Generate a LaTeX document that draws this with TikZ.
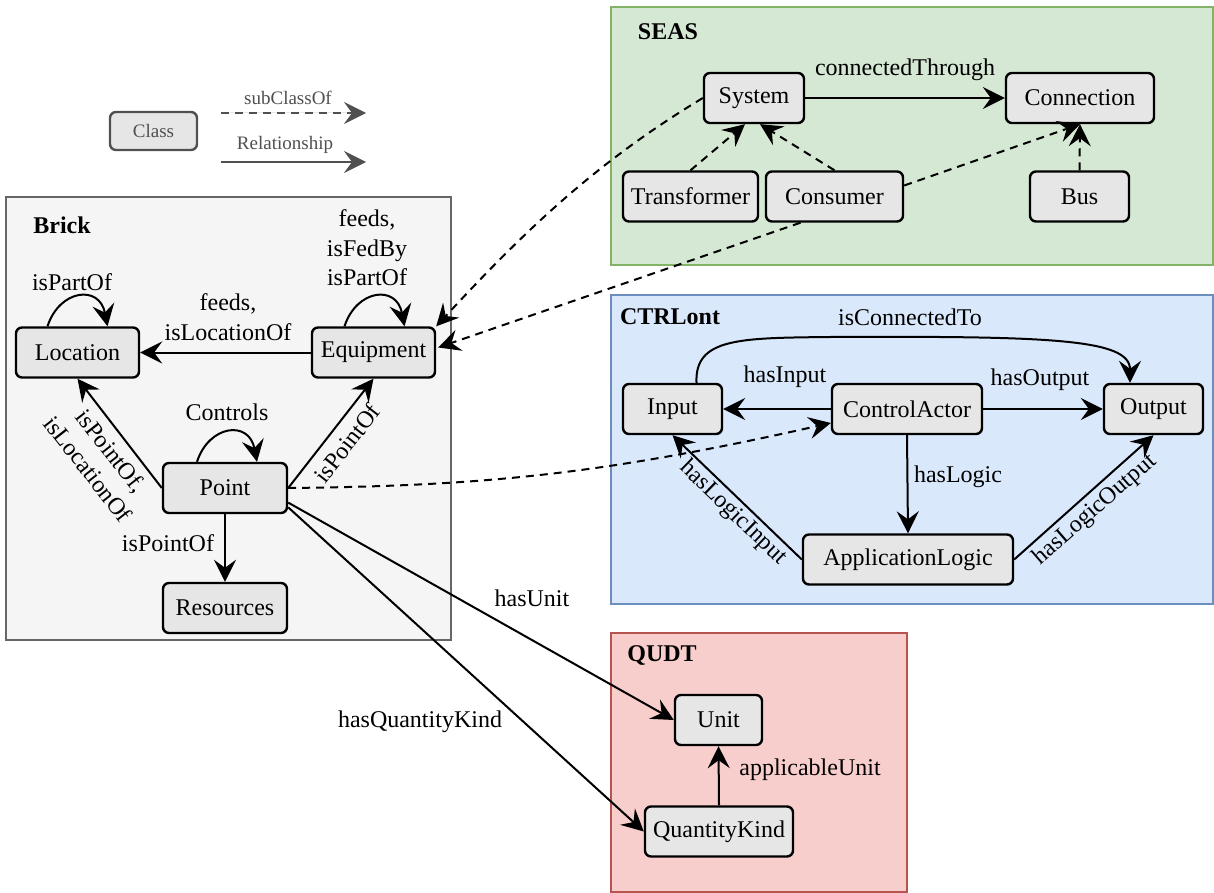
\documentclass[tikz,border=0pt]{standalone}
\usepackage{fontspec}
\setmainfont{Liberation Serif}
\usetikzlibrary{arrows.meta,calc}
\definecolor{nodefill}{HTML}{E6E6E6}
\definecolor{brickfill}{HTML}{F5F5F5}
\definecolor{brickdraw}{HTML}{666666}
\definecolor{seasfill}{HTML}{D5E8D4}
\definecolor{seasdraw}{HTML}{82B366}
\definecolor{ctrlfill}{HTML}{DAE8FC}
\definecolor{ctrldraw}{HTML}{6C8EBF}
\definecolor{qudtfill}{HTML}{F8CECC}
\definecolor{qudtdraw}{HTML}{B85450}
\definecolor{leggray}{HTML}{505050}
\begin{document}
\begin{tikzpicture}[x=0.5pt,y=-0.5pt,
  cls/.style={draw=black, line width=1.2pt, fill=nodefill, rounded corners=3pt, inner sep=0pt,
    minimum height=25pt, font=\fontsize{12}{14.5}\selectfont},
  container/.style={line width=1pt},
  title/.style={font=\fontsize{12}{14.5}\selectfont\bfseries, inner sep=0pt},
  rel/.style={line width=1pt, -{Stealth[length=11pt,width=11pt,inset=4pt]}},
  sub/.style={rel, dash pattern=on 4pt off 3pt},
  lbl/.style={font=\fontsize{12}{14.75}\selectfont, align=center, inner sep=0pt},
  leglbl/.style={font=\fontsize{9.5}{11}\selectfont, text=leggray, inner sep=0pt}]
\path[use as bounding box, fill=white] (0,0) rectangle (1214,893);

% containers
\draw[container, fill=brickfill, draw=brickdraw] (6,197) rectangle (451,640);
\draw[container, fill=seasfill, draw=seasdraw] (611,7) rectangle (1213,265);
\draw[container, fill=ctrlfill, draw=ctrldraw] (611,295) rectangle (1213,604);
\draw[container, fill=qudtfill, draw=qudtdraw] (611,633) rectangle (907,892);

\node[title] (tbrick) at (62,225) {Brick};
\node[title] (tseas) at (668,32) {SEAS};
\node[title] (tctrl) at (670,317) {CTRLont};
\node[title] (tqudt) at (662,655) {QUDT};

% legend
\node[cls, draw=leggray, minimum width=43.5pt, minimum height=19pt, text=leggray,
  font=\fontsize{9.5}{11}\selectfont] (legclass) at (153.5,131) {Class};
\coordinate (l1a) at (221,113);
\coordinate (l1b) at (366,113);
\coordinate (l2a) at (221,162);
\coordinate (l2b) at (366,162);
\draw[sub, draw=leggray, fill=leggray] (l1a) -- (l1b);
\draw[rel, draw=leggray, fill=leggray] (l2a) -- (l2b);
\node[leglbl] (lsub) at (288,98) {subClassOf};
\node[leglbl] (lrel) at (285,145) {Relationship};

% Brick nodes
\node[cls, minimum width=61.5pt] (loc) at (77.5,352.5) {Location};
\node[cls, minimum width=61.5pt] (equip) at (373.5,352.5) {Equipment};
\node[cls, minimum width=62pt] (point) at (225,488) {Point};
\node[cls, minimum width=62pt] (res) at (225,608) {Resources};

% SEAS nodes
\node[cls, minimum width=50pt] (sys) at (754,98) {System};
\node[cls, minimum width=74pt] (conn) at (1080,98) {Connection};
\node[cls, minimum width=67.5pt] (trans) at (690.5,196.5) {Transformer};
\node[cls, minimum width=68.5pt] (cons) at (834.5,196.5) {Consumer};
\node[cls, minimum width=49.5pt] (bus) at (1079.5,196.5) {Bus};

% CTRLont nodes
\node[cls, minimum width=49.5pt] (input) at (672.5,409) {Input};
\node[cls, minimum width=75pt] (ca) at (907,409) {ControlActor};
\node[cls, minimum width=49.5pt] (output) at (1153.5,409) {Output};
\node[cls, minimum width=105pt] (al) at (908,559.5) {ApplicationLogic};

% QUDT nodes
\node[cls, minimum width=43.5pt] (unit) at (718.5,720) {Unit};
\node[cls, minimum width=74pt] (qk) at (719,831.5) {QuantityKind};

% Brick edges
\draw[rel] (equip.west) -- (loc.east);
\draw[rel] ($(loc.north)+(-30,0)$) .. controls ($(loc.north)+(-18,-37)$) and ($(loc.north)+(22,-42)$) .. ($(loc.north)+(30,0)$);
\draw[rel] ($(equip.north)+(-29,0)$) .. controls ($(equip.north)+(-17,-37)$) and ($(equip.north)+(23,-42)$) .. ($(equip.north)+(31,0)$);
\draw[rel] ($(point.north)+(-28,0)$) .. controls ($(point.north)+(-16,-37)$) and ($(point.north)+(24,-42)$) .. ($(point.north)+(32,0)$);
\draw[rel] (point.west) -- (loc.south);
\draw[rel] (point.east) -- (equip.south);
\draw[rel] (point.south) -- (res.north);
\draw[rel] (point.-13) -- (unit.west);
\draw[rel] (point.-17) -- (qk.west);
\draw[sub] (point.east) .. controls (480,486) and (600,475) .. ($(ca.west)+(0,14)$);

% SEAS edges
\draw[rel] (sys.east) -- (conn.west);
\draw[sub] (trans.north) -- ($(sys.south)+(-9,0)$);
\draw[sub] (cons.north) -- ($(sys.south)+(6,0)$);
\draw[sub] (bus.north) -- (conn.south);
\draw[sub] ($(cons.east)+(0,-11)$) -- (conn.south);
\draw[sub] (sys.west) .. controls (600,160) and (530,225) .. (equip.north east);
\draw[sub] ($(cons.south)+(-34,0)$) -- ($(equip.east)+(2,-5)$);

% CTRLont edges
\draw[rel] (ca.west) -- (input.east);
\draw[rel] (ca.east) -- (output.west);
\draw[rel] (ca.south) -- (al.north);
\draw[rel] (al.west) -- (input.south);
\draw[rel] (al.east) -- (output.south);
\draw[rel] ($(input.north)+(24,0)$) .. controls ($(input.north)+(22,-45)$) and (740,338) .. (830,337)
  .. controls (1050,336) and ($(output.north)+(-23.5,-44)$) .. ($(output.north)+(-23.5,0)$);

% QUDT edges
\draw[rel] (qk.north) -- (unit.south);

% labels
\node[lbl] (lbpart) at (72,282) {isPartOf};
\node[lbl] (lbfeeds) at (367,248) {feeds,\\isFedBy\\isPartOf};
\node[lbl] (lbfeedsloc) at (228,317) {feeds,\\isLocationOf};
\node[lbl] (lbcontrols) at (227,412) {Controls};
\node[lbl] (lbpres) at (168,543) {isPointOf};
\node[lbl, rotate=-52] (lbploc) at (100,460) {isPointOf,\\isLocationOf};
\node[lbl, rotate=52] (lbpeq) at (347,443) {isPointOf};
\node[lbl] (lbunit) at (532,598) {hasUnit};
\node[lbl] (lbqk) at (420,722) {hasQuantityKind};
\node[lbl] (lbapp) at (810,770) {applicableUnit};
\node[lbl] (lbconn) at (905,70) {connectedThrough};
\node[lbl] (lbiscon) at (910,317) {isConnectedTo};
\node[lbl] (lbin) at (785,377) {hasInput};
\node[lbl] (lbout) at (1040,380) {hasOutput};
\node[lbl] (lblogic) at (958,477) {hasLogic};
\node[lbl, rotate=-44] (lbli) at (733,513) {hasLogicInput};
\node[lbl, rotate=41] (lblo) at (1095,510) {hasLogicOutput};
\end{tikzpicture}
\end{document}
